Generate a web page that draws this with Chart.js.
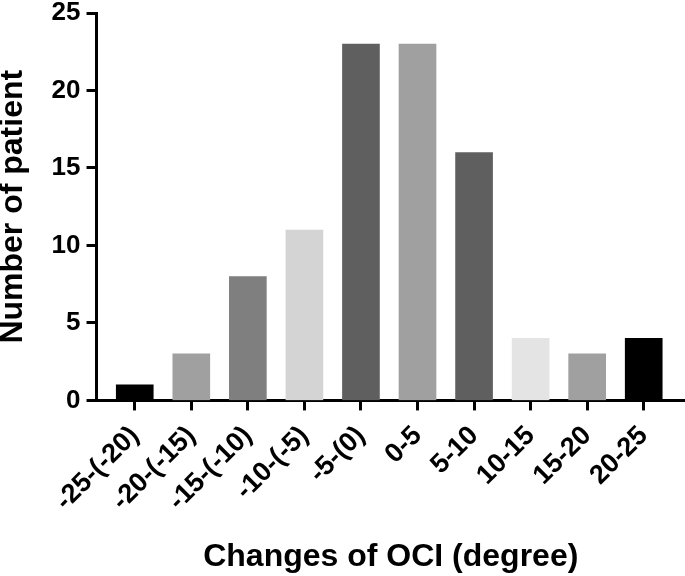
<!DOCTYPE html>
<html>
<head>
<meta charset="utf-8">
<script src="https://cdn.jsdelivr.net/npm/chart.js@4"></script>
<style>
html,body{margin:0;padding:0;background:#fff;}
#wrap{width:685px;height:576px;}
</style>
</head>
<body>
<div id="wrap"><canvas id="c" width="685" height="576"></canvas></div>
<script>
const categories = ["-25-(-20)", "-20-(-15)", "-15-(-10)", "-10-(-5)", "-5-(0)", "0-5", "5-10", "10-15", "15-20", "20-25"];
const patients = [1, 3, 8, 11, 23, 23, 16, 4, 3, 4];
const barColors = ["#000000", "#a0a0a0", "#7f7f7f", "#d4d4d4", "#5f5f5f", "#a0a0a0", "#5f5f5f", "#e4e4e4", "#a0a0a0", "#000000"];
const yTicks = [0, 5, 10, 15, 20, 25];

const FONT = "'Liberation Sans', Arial, sans-serif";

new Chart(document.getElementById('c'), {
  type: 'bar',
  data: {
    datasets: [{
      data: patients.map((v, i) => ({x: i, y: v})),
      backgroundColor: barColors,
      borderWidth: 0,
      barThickness: 37
    }]
  },
  options: {
    responsive: false,
    animation: false,
    layout: {padding: {top: 0, right: 0, left: 0, bottom: 0}},
    plugins: {legend: {display: false}, tooltip: {enabled: false}},
    scales: {
      x: {
        type: 'linear',
        offset: false,
        min: -0.676,
        max: 9.73,
        afterBuildTicks: (scale) => { scale.ticks = categories.map((_, i) => ({value: i})); },
        ticks: {
          autoSkip: false,
          minRotation: 45,
          maxRotation: 45,
          color: '#000',
          padding: 9.5,
          font: {family: FONT, size: 27, weight: 'bold'},
          callback: (v) => categories[v]
        },
        grid: {display: true, offset: false, drawOnChartArea: false, drawTicks: true, tickLength: 10, tickWidth: 3, tickColor: '#000'},
        border: {display: true, color: '#000', width: 3},
        title: {display: true, text: 'Changes of OCI (degree)', color: '#000', font: {family: FONT, size: 32, weight: 'bold'}, padding: {top: 11, bottom: 0}}
      },
      y: {
        min: 0,
        max: 25,
        afterBuildTicks: (scale) => { scale.ticks = yTicks.map(v => ({value: v})); },
        ticks: {
          color: '#000',
          padding: 6,
          font: {family: FONT, size: 26, weight: 'bold', lineHeight: 0.54}
        },
        grid: {display: true, drawOnChartArea: false, drawTicks: true, tickLength: 10, tickWidth: 3, tickColor: '#000'},
        border: {display: true, color: '#000', width: 3},
        title: {display: true, text: 'Number of patient', color: '#000', font: {family: FONT, size: 32, weight: 'bold', lineHeight: 0.8}, padding: {top: 0, bottom: 20}}
      }
    }
  }
});
</script>
</body>
</html>
